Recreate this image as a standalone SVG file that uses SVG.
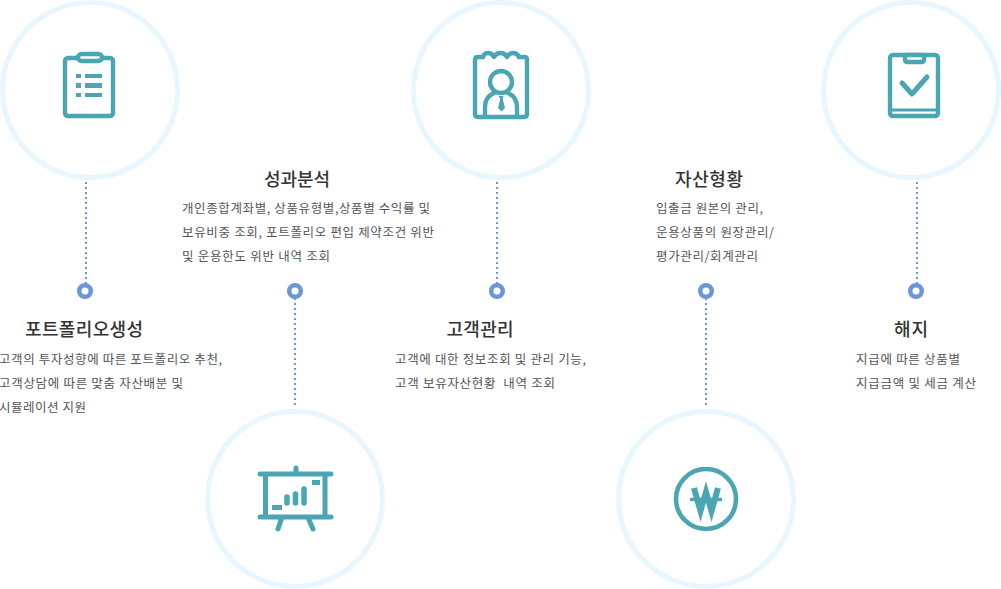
<svg xmlns="http://www.w3.org/2000/svg" width="1001" height="589" viewBox="0 0 1001 589">
<style>
text{font-family:"Noto Sans CJK KR","Noto Sans",sans-serif}
.t{font-size:18px;font-weight:500;fill:#333;text-anchor:middle}
.b{font-size:12.5px;fill:#555}
.c{fill:#fff;stroke:#e8f7ff;stroke-width:5}
.i{fill:none;stroke:#4aa6b2;stroke-width:4.400;stroke-linecap:round;stroke-linejoin:round}
.f{fill:#4aa6b2}
.d{fill:#fff;stroke:#6b96d9;stroke-width:4.500}
.l{stroke:#6b96d9;stroke-width:2;stroke-dasharray:2 3;fill:none}
</style>
<g id="connectors">
<path class="l" d="M86 182V284"/>
<path class="l" d="M295 298V406"/>
<path class="l" d="M497 182V284"/>
<path class="l" d="M706 298V406"/>
<path class="l" d="M917 182V284"/>
</g>
<g id="node-portfolio">
<circle class="c" cx="90" cy="90" r="87.500"/>
<g class="i"><rect x="65" y="58" width="48" height="58" rx="3"/><rect x="78" y="54" width="24" height="7" rx="3.500" fill="#fff"/></g>
<path class="f" d="M76 74h5v4h-5zM85 74h17v4H85zM76 83h5v5h-5zM85 83h17v5H85zM76 93h5v4h-5zM85 93h17v4H85z"/>
<circle class="d" cx="85" cy="291" r="5.800"/>
<text class="t" x="84" y="336" textLength="118" lengthAdjust="spacing">포트폴리오생성</text>
<text class="b" x="-1" y="364" textLength="223" lengthAdjust="spacing">고객의 투자성향에 따른 포트폴리오 추천,</text>
<text class="b" x="-1" y="388" textLength="184" lengthAdjust="spacing">고객상담에 따른 맞춤 자산배분 및</text>
<text class="b" x="-1" y="412" textLength="87" lengthAdjust="spacing">시뮬레이션 지원</text>
</g>
<g id="node-performance">
<circle class="c" cx="295" cy="499" r="87.500"/>
<g class="i" style="stroke-width:5"><path d="M260 474H331M260 517H331M265.500 474V517M325 474V517M296 468V474M281 520L278 529M309 520L313 529"/></g>
<path class="f" d="M272 505h10v5h-10zM312 480h8v5h-8z"/>
<path class="i" d="M287 497v6M295.500 494v9M304 489v14" style="stroke-width:5.500"/>
<circle class="d" cx="295" cy="291" r="5.800"/>
<text class="t" x="297" y="186" textLength="66" lengthAdjust="spacing">성과분석</text>
<text class="b" x="182" y="213" textLength="248" lengthAdjust="spacing">개인종합계좌별, 상품유형별,상품별 수익률 및</text>
<text class="b" x="182" y="237" textLength="252" lengthAdjust="spacing">보유비중 조회, 포트폴리오 편입 제약조건 위반</text>
<text class="b" x="182" y="261" textLength="148" lengthAdjust="spacing">및 운용한도 위반 내역 조회</text>
</g>
<g id="node-customer">
<circle class="c" cx="501" cy="90" r="87.500"/>
<g class="i"><path d="M483 57H478Q475 57 475 60V114Q475 117 478 117H524Q527 117 527 114V60Q527 57 524 57H519"/><path d="M483 57Q484 53 488 53Q492 53 494 57Q496 53 500.500 53Q505 53 507 57Q509 53 513 53Q517 53 519 57"/><circle cx="501" cy="82" r="11"/><path d="M485 115V107Q485 97 494 93M517 115V107Q517 97 508 93"/></g>
<path class="f" d="M498.500 96h5l-.8 3 2.300 9-3.500 3.500-3.500-3.500 2.300-9z"/>
<circle class="d" cx="497" cy="291" r="5.800"/>
<text class="t" x="480" y="336" textLength="67" lengthAdjust="spacing">고객관리</text>
<text class="b" x="395" y="364" textLength="191" lengthAdjust="spacing">고객에 대한 정보조회 및 관리 기능,</text>
<text class="b" x="395" y="388" textLength="160" lengthAdjust="spacing" xml:space="preserve">고객 보유자산현황  내역 조회</text>
</g>
<g id="node-assets">
<circle class="c" cx="706" cy="499" r="87.500"/>
<circle class="i" cx="706" cy="499" r="30" style="stroke-width:4.500"/>
<path class="i" d="M694 488L700.500 511L706 492L711.500 511L718 488" style="stroke-width:6;stroke-linecap:butt;stroke-linejoin:miter"/>
<path class="i" d="M690 499.500H722" style="stroke-width:3.500;stroke-linecap:butt"/>
<circle class="d" cx="706" cy="291" r="5.800"/>
<text class="t" x="709" y="186" textLength="68" lengthAdjust="spacing">자산형황</text>
<text class="b" x="656" y="213" textLength="107" lengthAdjust="spacing">입출금 원본의 관리,</text>
<text class="b" x="656" y="237" textLength="118" lengthAdjust="spacing">운용상품의 원장관리/</text>
<text class="b" x="656" y="261" textLength="102" lengthAdjust="spacing">평가관리/회계관리</text>
</g>
<g id="node-termination">
<circle class="c" cx="911" cy="90" r="87.500"/>
<g class="i"><rect x="890" y="55" width="48" height="61" rx="3"/><rect x="905" y="55" width="19" height="7" rx="2" fill="#fff"/><path d="M902 83L912 94L927 77" style="stroke-width:5"/><path d="M891 110H937" style="stroke-width:3;stroke-linecap:butt"/></g>
<circle class="d" cx="916" cy="291" r="5.800"/>
<text class="t" x="911" y="336" textLength="34" lengthAdjust="spacing">해지</text>
<text class="b" x="856" y="364" textLength="104" lengthAdjust="spacing">지급에 따른 상품별</text>
<text class="b" x="856" y="388" textLength="120" lengthAdjust="spacing">지급금액 및 세금 계산</text>
</g>
</svg>
